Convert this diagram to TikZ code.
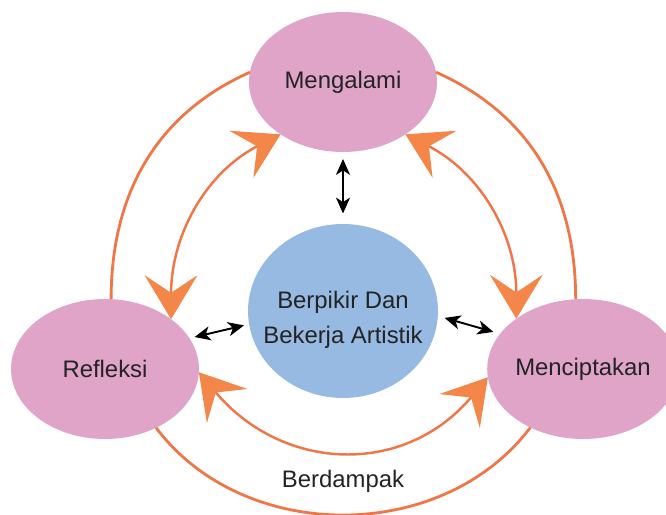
\documentclass[tikz,border=0pt]{standalone}
\usepackage{fontspec}
\setmainfont{Liberation Sans}
\usetikzlibrary{shapes.geometric,arrows.meta}

\definecolor{stagepink}{RGB}{223,164,200}
\definecolor{hubblue}{RGB}{150,186,225}
\definecolor{ringorange}{RGB}{240,118,72}
\definecolor{headorange}{RGB}{244,134,74}
\definecolor{labelgray}{RGB}{35,35,35}

\tikzstyle{stage} = [ellipse, minimum width=3.76cm, minimum height=2.8cm,
inner sep=0pt, outer sep=0pt, fill=stagepink, text=labelgray,
font=\fontsize{13.6}{16}\selectfont]
\tikzstyle{hub} = [ellipse, minimum width=3.8cm, minimum height=3.48cm,
inner sep=0pt, outer sep=0pt, fill=hubblue]
\tikzstyle{caption} = [text=labelgray, align=center,
font=\fontsize{13.6}{19.8}\selectfont]
\tikzstyle{ring} = [ringorange, line width=1.6pt]
\tikzstyle{ringarrow} = [ringorange, line width=1.4pt,
{Stealth[length=25pt,width=30pt,inset=10pt,color=headorange]}-{Stealth[length=25pt,width=30pt,inset=10pt,color=headorange]}]
\tikzstyle{pair} = [black, line width=1.1pt,
{Stealth[length=9pt,width=8pt,inset=2.5pt]}-{Stealth[length=9pt,width=8pt,inset=2.5pt]}]

\begin{document}
\begin{tikzpicture}[x=0.02cm, y=0.02cm]
  \useasboundingbox (0,0) rectangle (666,514);
  \clip (0,0) rectangle (666,514);
  \node (mg) [stage] at (343,432) {Mengalami};
  \node (rf) [stage] at (105,145) {Refleksi};
  \node (mc) [stage] at (583,145) {Menciptakan};
  \node (bk) [hub] at (343,203) {};
  \node (bktext) [caption] at (343,194) {Berpikir Dan\\Bekerja Artistik};
  \node (bd) [caption] at (343,33) {Berdampak};
  % connections
  \path [ring] (mg.174) edge[out=204, in=90] (rf.85);
  \path [ring] (mg.6) edge[out=-24, in=90] (mc.96);
  \path [ring] (rf.-49) edge[out=-53, in=-127] (mc.-132);
  \path [ringarrow] (rf.37) edge[out=90, in=207] (mg.220);
  \path [ringarrow] (mc.143) edge[out=90, in=-27] (mg.-40);
  \path [ringarrow] (rf.-2) edge[out=-50, in=-130, looseness=1.15] (mc.185);
  \path [pair, shorten <=4pt, shorten >=6pt] (mg.south) edge (bk.north);
  \path [pair, shorten <=3pt, shorten >=3pt] (rf.20) edge (bk.188);
  \path [pair, shorten <=4pt, shorten >=4pt] (bk.-3) edge (mc.157);
\end{tikzpicture}
\end{document}
